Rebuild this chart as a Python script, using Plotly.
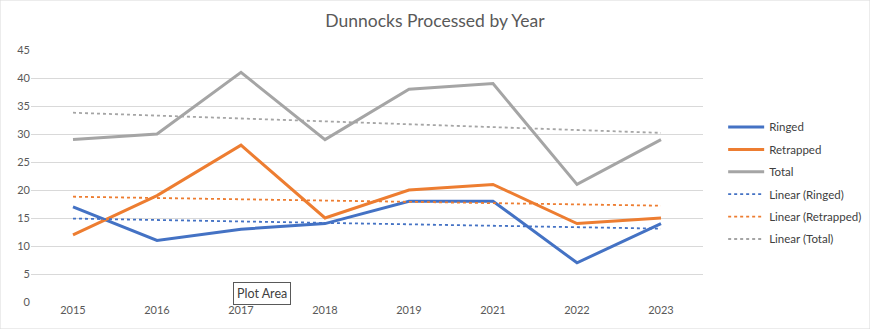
import plotly.graph_objects as go

years = ["2015", "2016", "2017", "2018", "2019", "2021", "2022", "2023"]
ringed = [17, 11, 13, 14, 18, 18, 7, 14]
retrapped = [12, 19, 28, 15, 20, 21, 14, 15]
total = [29, 30, 41, 29, 38, 39, 21, 29]

# linear trendline endpoints (first and last year)
trend_years = ["2015", "2023"]
trend_ringed = [14.9, 13.1]
trend_retrapped = [18.8, 17.2]
trend_total = [33.8, 30.2]

y_ticks = [0, 5, 10, 15, 20, 25, 30, 35, 40, 45]

BLUE = "#4472C4"
ORANGE = "#ED7D31"
GREY = "#A5A5A5"
TEXT = "#595959"
FONT = "Lato"

fig = go.Figure()
for name, vals, col in [("Ringed", ringed, BLUE), ("Retrapped", retrapped, ORANGE), ("Total", total, GREY)]:
    fig.add_trace(go.Scatter(x=years, y=vals, mode="lines", name=name, legendgroup=name,
                             line=dict(color=col, width=3)))
for name, vals, col in [("Linear (Ringed)", trend_ringed, BLUE),
                        ("Linear (Retrapped)", trend_retrapped, ORANGE),
                        ("Linear (Total)", trend_total, GREY)]:
    fig.add_trace(go.Scatter(x=trend_years, y=vals, mode="lines", name=name, legendgroup=name,
                             line=dict(color=col, width=1.8, dash="dot")))

fig.update_layout(
    width=870, height=329,
    margin=dict(l=31, r=167, t=50, b=27, autoexpand=False),
    paper_bgcolor="white", plot_bgcolor="white",
    font=dict(family=FONT, size=11, color=TEXT),
    title=dict(text="Dunnocks Processed by Year", x=0.5, xanchor="center",
               y=1 - 21 / 329, yanchor="middle",
               font=dict(family=FONT, size=17.5, color=TEXT)),
    showlegend=True,
    legend=dict(x=1.03, xanchor="left", y=0.752, yanchor="top",
                font=dict(family=FONT, size=11.5, color="#404040"),
                itemwidth=36, tracegroupgap=3.4, bgcolor="rgba(0,0,0,0)"),
    xaxis=dict(type="category", categoryorder="array", categoryarray=years,
               range=[-0.5, 7.5], showgrid=False, showline=False, zeroline=False,
               ticks="", tickfont=dict(size=11, color=TEXT), fixedrange=True),
    yaxis=dict(range=[0, 45], tickvals=y_ticks, showgrid=True, gridcolor="#D9D9D9",
               gridwidth=1, zeroline=False, showline=False, ticks="",
               tickfont=dict(size=11, color=TEXT), fixedrange=True),
)

fig.add_annotation(x=2, y=0, xref="x", yref="y", yshift=9, xshift=21,
                   text="Plot Area", showarrow=False,
                   bordercolor="#595959", borderwidth=1, borderpad=3,
                   bgcolor="white", font=dict(family=FONT, size=12.5, color="#404040"))

fig.add_shape(type="rect", xref="paper", yref="paper", x0=-31/672, x1=1+167/672,
              y0=-27/252, y1=1+50/252, line=dict(color="#D9D9D9", width=1), layer="below")

fig.write_html("out.html")
